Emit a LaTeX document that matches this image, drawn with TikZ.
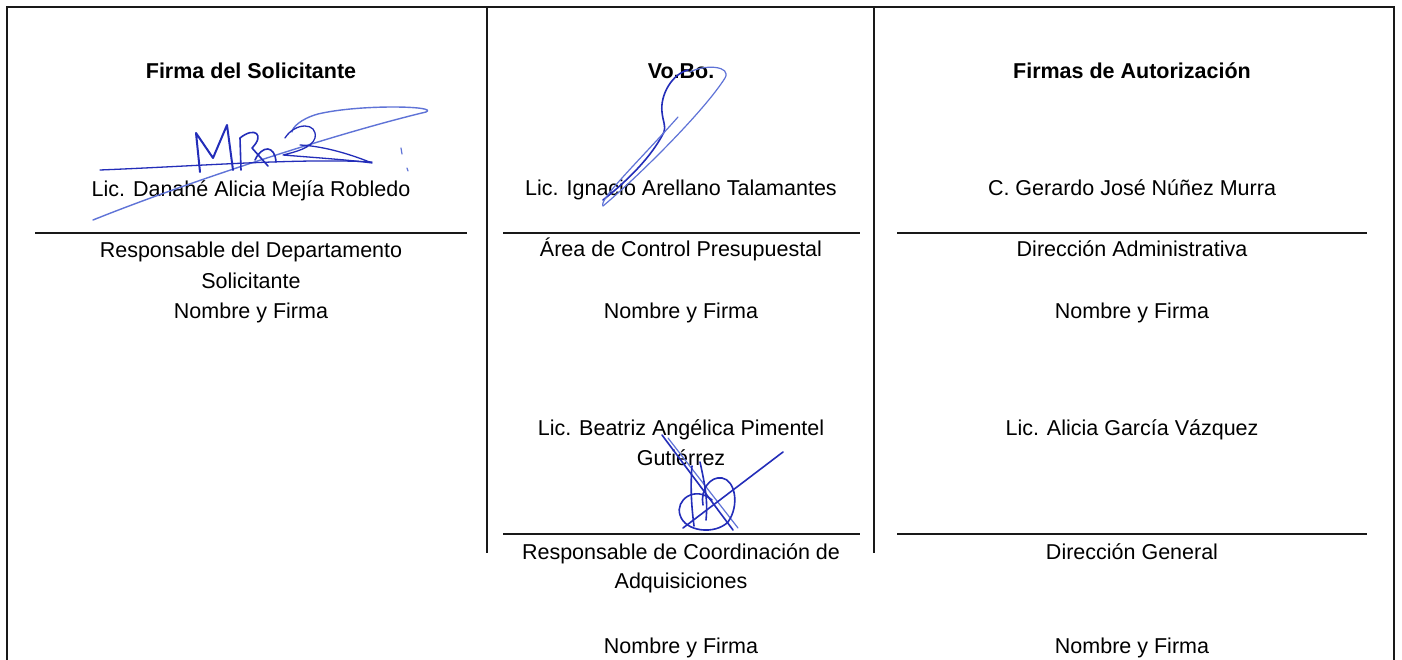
\documentclass[tikz,border=0pt]{standalone}
\usepackage{fontspec}
\setmainfont{Liberation Sans}
\definecolor{inkD}{RGB}{35,45,185}
\definecolor{inkL}{RGB}{95,115,215}
\definecolor{rule}{RGB}{25,25,25}
\begin{document}
\begin{tikzpicture}[x=1pt,y=-1pt,
  txt/.style={font=\fontsize{21.5}{30}\selectfont, inner sep=0pt, anchor=base, text=black},
  ttl/.style={txt, font=\fontsize{21.5}{30}\selectfont\bfseries},
  frame/.style={line width=2pt, draw=rule},
  sigline/.style={line width=1.6pt, draw=rule},
  inkdark/.style={draw=inkD, line width=1.6pt, line cap=round, line join=round},
  inklight/.style={draw=inkL, line width=1.2pt, line cap=round, line join=round}]
\useasboundingbox (0,0) rectangle (1402,660);
\fill[white] (0,0) rectangle (1402,660);

% frame and dividers
\draw[frame] (7,660) -- (7,7) -- (1394,7) -- (1394,660);
\draw[frame] (487,7) -- (487,553);
\draw[frame] (874,7) -- (874,553);

% signature lines
\draw[sigline] (35,233) -- (467,233);
\draw[sigline] (503,233) -- (860,233);
\draw[sigline] (897,233) -- (1367,233);
\draw[sigline] (503,534) -- (860,534);
\draw[sigline] (897,534) -- (1367,534);

% column 1
\node[ttl] (t1) at (251,79) {Firma del Solicitante};
\node[txt] (n1) at (251,197) {Lic. Danahé Alicia Mejía Robledo};
\node[txt] (r1a) at (251,258) {Responsable del Departamento};
\node[txt] (r1b) at (251,288) {Solicitante};
\node[txt] (f1) at (251,318) {Nombre y Firma};

% column 2
\node[ttl] (t2) at (681,79) {Vo.Bo.};
\node[txt] (n2) at (681,196) {Lic. Ignacio Arellano Talamantes};
\node[txt] (r2) at (681,257) {Área de Control Presupuestal};
\node[txt] (f2) at (681,318) {Nombre y Firma};
\node[txt] (n3a) at (681,435) {Lic. Beatriz Angélica Pimentel};
\node[txt] (n3b) at (681,465) {Gutiérrez};
\node[txt] (r3a) at (681,559) {Responsable de Coordinación de};
\node[txt] (r3b) at (681,588) {Adquisiciones};
\node[txt] (f3) at (681,653) {Nombre y Firma};

% column 3
\node[ttl] (t3) at (1132,79) {Firmas de Autorización};
\node[txt] (n4) at (1132,196) {C. Gerardo José Núñez Murra};
\node[txt] (r4) at (1132,257) {Dirección Administrativa};
\node[txt] (f4) at (1132,318) {Nombre y Firma};
\node[txt] (n5) at (1132,435) {Lic. Alicia García Vázquez};
\node[txt] (r5) at (1132,559) {Dirección General};
\node[txt] (f5) at (1132,653) {Nombre y Firma};

% signature 1
\draw[inklight, line width=1.4pt] (93,220) .. controls (180,185) and (330,135) .. (426,112)
      .. controls (440,106) and (360,104) .. (318,114) .. controls (300,119) and (292,128) .. (292,132);
\draw[inkdark, line width=1.3pt] (100,170) .. controls (200,166) and (300,158) .. (372,162);
\draw[inkdark, line width=1.3pt] (285,138) .. controls (295,122) and (318,122) .. (315,138)
      .. controls (312,148) and (295,152) .. (283,155) .. controls (320,158) and (350,160) .. (372,163)
      .. controls (345,152) and (320,146) .. (300,145);
\draw[inkdark, line width=2pt] (200,172) -- (196,133) -- (213,158) -- (227,125) -- (233,170);
\draw[inkdark] (241,170) -- (240,138) .. controls (255,126) and (265,135) .. (252,148) -- (268,166);
\draw[inkdark] (255,160) .. controls (262,145) and (275,145) .. (276,162);
\draw[inklight] (401,148) -- (402,154);
\draw[inklight] (407,168) -- (408,171);

% signature 2
\draw[inkdark] (688,70) .. controls (672,74) and (660,95) .. (662,112)
      .. controls (663,122) and (666,126) .. (664,132) .. controls (650,160) and (622,185) .. (603,200);
\draw[inklight] (603,206) .. controls (640,175) and (705,110) .. (725,78)
      .. controls (732,66) and (705,64) .. (690,72);
\draw[inklight] (603,206) .. controls (598,200) and (640,160) .. (678,117);

% signature 3
\draw[inkdark] (662,435) -- (733,530);
\draw[inklight] (668,438) -- (738,528);
\draw[inkdark] (783,452) -- (683,528);
\draw[inkdark] (712,500) .. controls (695,485) and (675,500) .. (680,515)
      .. controls (685,532) and (715,535) .. (728,522) .. controls (740,505) and (735,480) .. (722,478)
      .. controls (710,476) and (700,490) .. (703,505);
\draw[inkdark] (692,466) .. controls (690,490) and (692,510) .. (694,526);
\draw[inkdark] (700,462) .. controls (705,485) and (708,500) .. (706,520);
\end{tikzpicture}
\end{document}
